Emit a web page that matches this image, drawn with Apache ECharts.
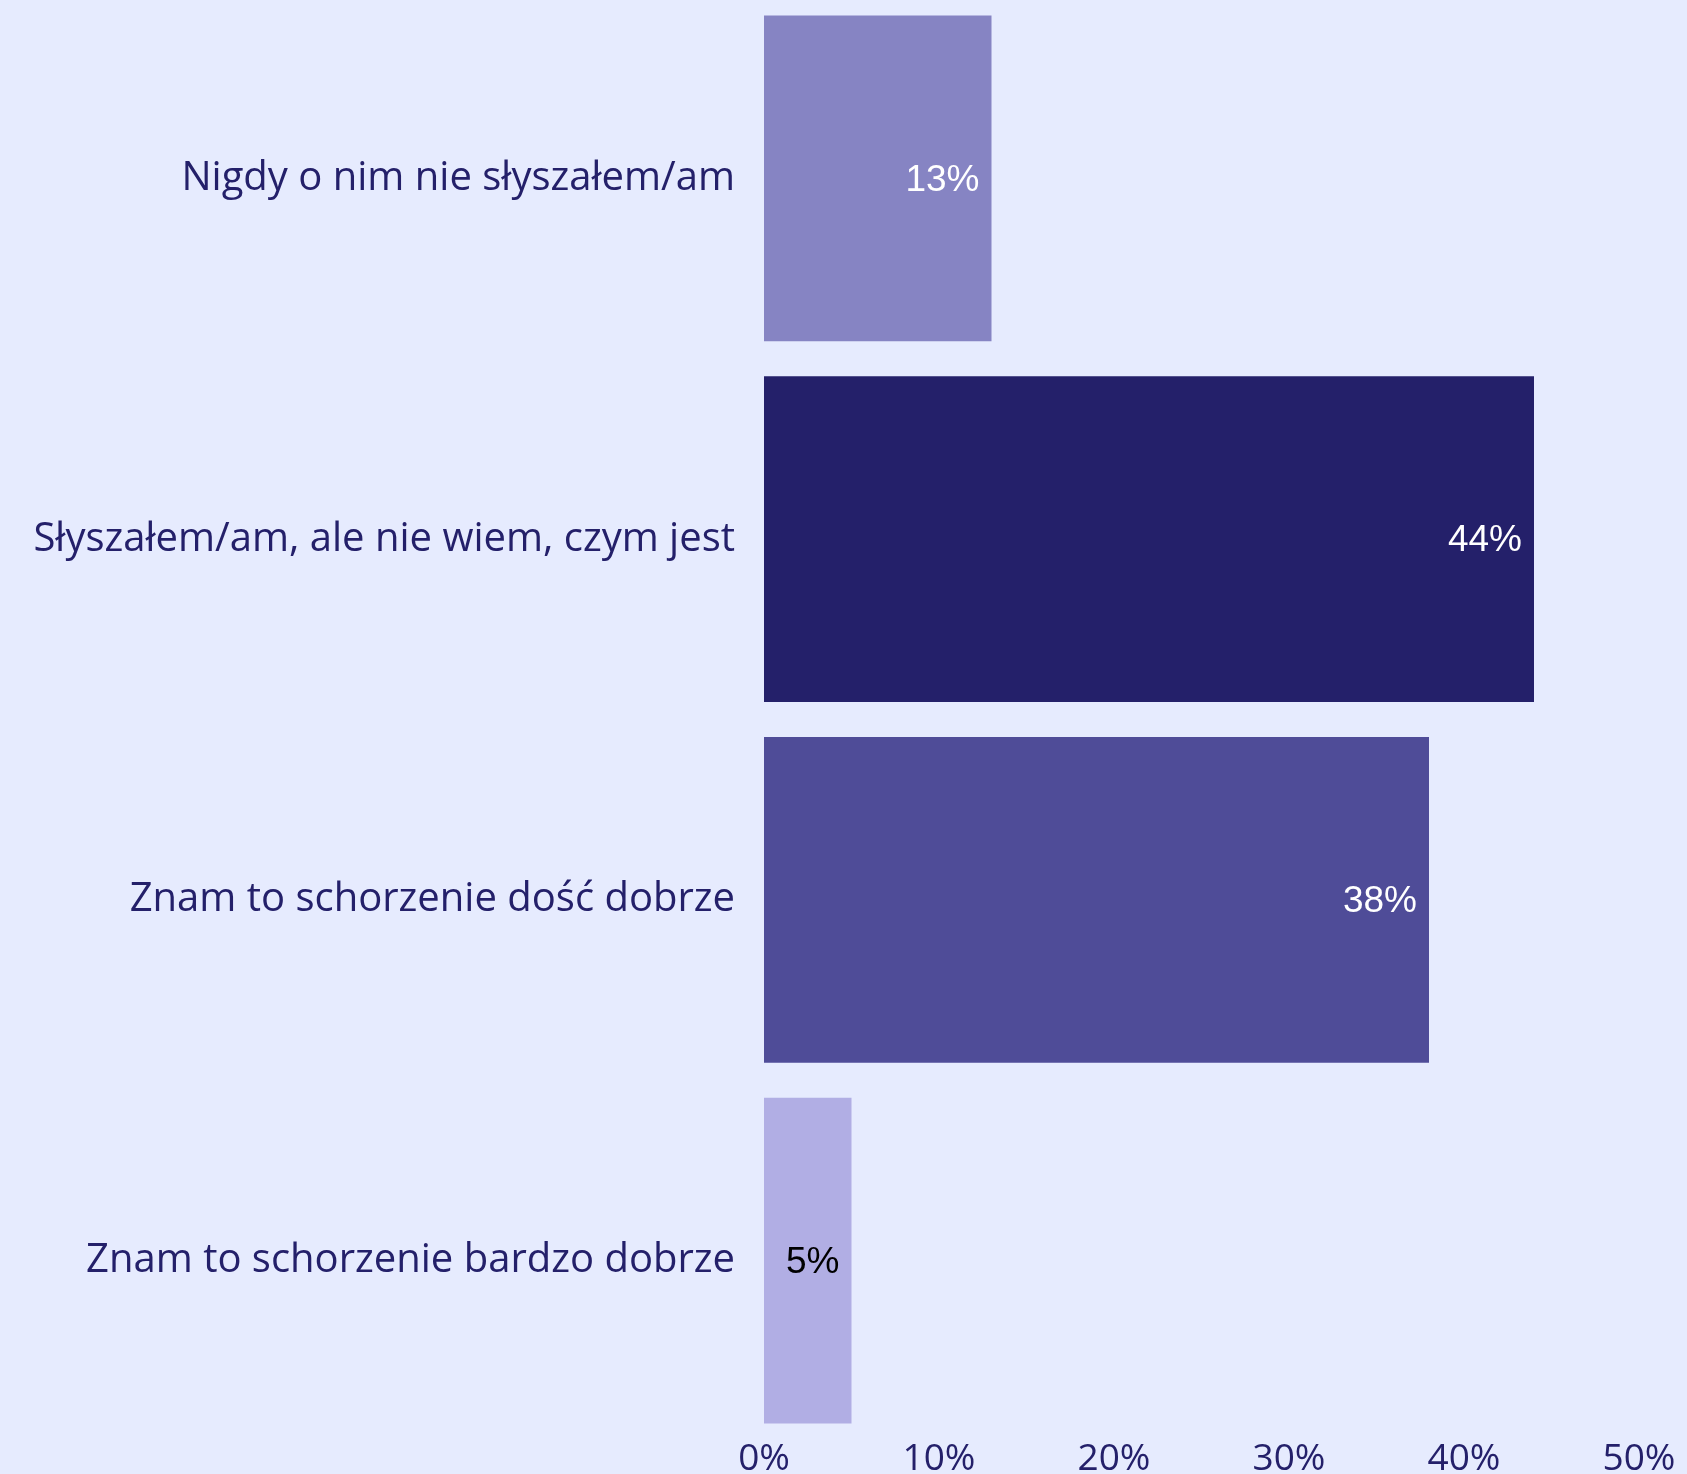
<!DOCTYPE html>
<html>
<head>
<meta charset="utf-8">
<script src="https://cdn.jsdelivr.net/npm/echarts@6/dist/echarts.min.js"></script>
<style>
  html, body { margin: 0; padding: 0; background: #e6ebfe; }
  #chart { width: 1687px; height: 1474px; }
</style>
</head>
<body>
<div id="chart"></div>
<script>
const categories = [
  'Nigdy o nim nie słyszałem/am',
  'Słyszałem/am, ale nie wiem, czym jest',
  'Znam to schorzenie dość dobrze',
  'Znam to schorzenie bardzo dobrze'
]
const values = [13, 44, 38, 5]
const barColors = ['#8684c3', '#24206a', '#4f4c98', '#b1aee4']
const labelColors = ['#ffffff', '#ffffff', '#ffffff', '#000000']
const ticks = [0, 10, 20, 30, 40, 50]

const textColor = '#24206a'
const font = 'Open Sans'

const myChart = echarts.init(document.getElementById('chart'))
myChart.setOption({
  backgroundColor: '#e6ebfe',
  animation: false,
  grid: {
    left: 764,
    right: 48,
    top: -2,
    bottom: 33,
    outerBoundsMode: 'none'
  },
  xAxis: {
    type: 'value',
    min: ticks[0],
    max: ticks[ticks.length - 1],
    interval: 10,
    splitLine: { show: false },
    axisLine: { show: false },
    axisTick: { show: false },
    axisLabel: {
      formatter: '{value}%',
      color: textColor,
      fontFamily: font,
      fontSize: 37,
      margin: 0
    }
  },
  yAxis: {
    type: 'category',
    inverse: true,
    data: categories,
    axisLine: { show: false },
    axisTick: { show: false },
    axisLabel: {
      color: textColor,
      fontFamily: font,
      fontSize: 40,
      margin: 29
    }
  },
  series: [
    {
      type: 'bar',
      barCategoryGap: '9.7%',
      data: values.map((v, i) => ({
        value: v,
        itemStyle: { color: barColors[i] },
        label: { color: labelColors[i] }
      })),
      label: {
        show: true,
        position: 'insideRight',
        distance: 12,
        offset: [0, 2],
        formatter: '{c}%',
        fontFamily: 'Liberation Sans',
        fontSize: 37
      }
    }
  ]
})
</script>
</body>
</html>
